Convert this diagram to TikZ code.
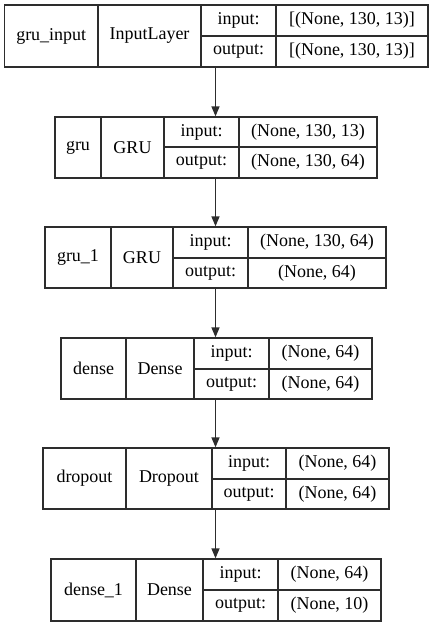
\documentclass[tikz,border=0pt]{standalone}
\usepackage{fontspec}
\setmainfont{Liberation Serif}
\newfontfamily\tnr{Liberation Serif}
\usetikzlibrary{arrows.meta}
\definecolor{linec}{RGB}{45,45,45}
\begin{document}
\begin{tikzpicture}[x=1pt,y=-1pt,
  box/.style={draw=linec, line width=1.3pt, inner sep=0pt},
  cell/.style={draw=linec, line width=1.3pt},
  lbl/.style={inner sep=0pt, font=\tnr\fontsize{18}{20}\selectfont},
  arr/.style={draw=linec, line width=1.3pt, -{Triangle[length=10pt,width=8pt]}}]
\useasboundingbox (0,0) rectangle (432,627);
\coordinate (X) at (215.5,0);
\foreach \id/\L/\a/\b/\c/\R/\T/\B/\M/\nm/\ty/\iv/\ov in {
  1/4.5/98/201/276/428/5/67/36/{gru\_input}/{InputLayer}/{[(None, 130, 13)]}/{[(None, 130, 13)]},
  2/55/101/164/239/377/117/178/147/{gru}/{GRU}/{(None, 130, 13)}/{(None, 130, 64)},
  3/45/111/173/248/386/227/288/258/{gru\_1}/{GRU}/{(None, 130, 64)}/{(None, 64)},
  4/61/126/194/269/372/338/399/369/{dense}/{Dense}/{(None, 64)}/{(None, 64)},
  5/43/126/212/286/389/448/509/479/{dropout}/{Dropout}/{(None, 64)}/{(None, 64)},
  6/51/136/203/278/381/559/621/590/{dense\_1}/{Dense}/{(None, 64)}/{(None, 10)}}{
  \pgfmathsetmacro\cx{(\L+\R)/2}
  \pgfmathsetmacro\cy{(\T+\B)/2}
  \pgfmathsetmacro\w{\R-\L}
  \pgfmathsetmacro\h{\B-\T}
  \node[box, minimum width=\w pt, minimum height=\h pt] (L\id) at (\cx,\cy) {};
  \draw[cell] (\a,\T) -- (\a,\B) (\b,\T) -- (\b,\B) (\c,\T) -- (\c,\B) (\b,\M) -- (\R,\M);
  \pgfmathsetmacro\xn{(\L+\a)/2}
  \pgfmathsetmacro\xt{(\a+\b)/2}
  \pgfmathsetmacro\xi{(\b+\c)/2}
  \pgfmathsetmacro\xv{(\c+\R)/2}
  \pgfmathsetmacro\yi{(\T+\M)/2}
  \pgfmathsetmacro\yo{(\M+\B)/2}
  \node[lbl] (N\id) at (\xn,\cy) {\nm};
  \node[lbl] (T\id) at (\xt,\cy) {\ty};
  \node[lbl] (I\id) at (\xi,\yi) {input:};
  \node[lbl] (O\id) at (\xi,\yo) {output:};
  \node[lbl] (IV\id) at (\xv,\yi) {\iv};
  \node[lbl] (OV\id) at (\xv,\yo) {\ov};
}
\foreach \p/\q in {1/2,2/3,3/4,4/5,5/6}
  \draw[arr] (L\p.south -| X) -- (L\q.north -| X);
\end{tikzpicture}
\end{document}
